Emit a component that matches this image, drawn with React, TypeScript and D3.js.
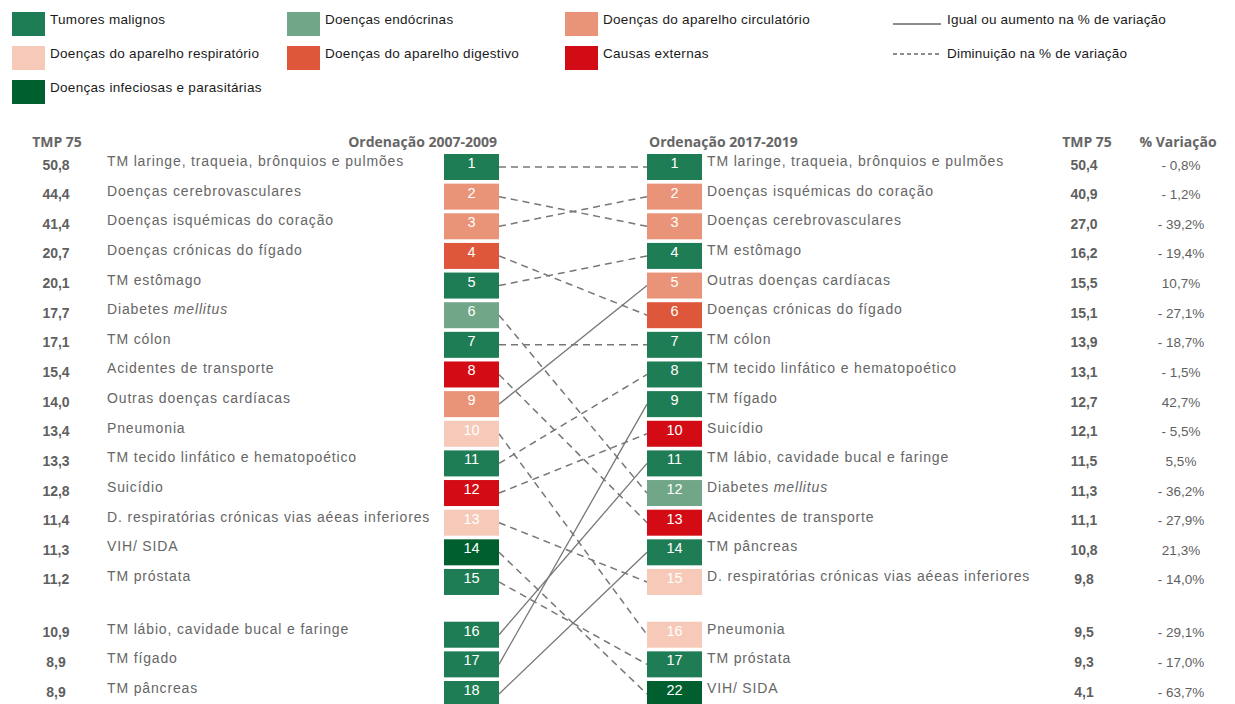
import * as d3 from "d3";

const W = 1235, H = 704;

// legend categories
const catKeys = ["tm", "endo", "circ", "resp", "dig", "ext", "inf"];
const catLabels = [
  "Tumores malignos",
  "Doenças endócrinas",
  "Doenças do aparelho circulatório",
  "Doenças do aparelho respiratório",
  "Doenças do aparelho digestivo",
  "Causas externas",
  "Doenças infeciosas e parasitárias",
];
const catColors = ["#1f7d55", "#72a688", "#e99478", "#f6c9b8", "#de573b", "#d20b14", "#005f2f"];

// 2007-2009 ordering
const leftNames = [
  "TM laringe, traqueia, brônquios e pulmões",
  "Doenças cerebrovasculares",
  "Doenças isquémicas do coração",
  "Doenças crónicas do fígado",
  "TM estômago",
  "Diabetes mellitus",
  "TM cólon",
  "Acidentes de transporte",
  "Outras doenças cardíacas",
  "Pneumonia",
  "TM tecido linfático e hematopoético",
  "Suicídio",
  "D. respiratórias crónicas vias aéeas inferiores",
  "VIH/ SIDA",
  "TM próstata",
  "TM lábio, cavidade bucal e faringe",
  "TM fígado",
  "TM pâncreas",
];
const leftTmp = [50.8, 44.4, 41.4, 20.7, 20.1, 17.7, 17.1, 15.4, 14.0, 13.4, 13.3, 12.8, 11.4, 11.3, 11.2, 10.9, 8.9, 8.9];
const leftCat = ["tm", "circ", "circ", "dig", "tm", "endo", "tm", "ext", "circ", "resp", "tm", "ext", "resp", "inf", "tm", "tm", "tm", "tm"];

// 2017-2019 ordering
const rightNames = [
  "TM laringe, traqueia, brônquios e pulmões",
  "Doenças isquémicas do coração",
  "Doenças cerebrovasculares",
  "TM estômago",
  "Outras doenças cardíacas",
  "Doenças crónicas do fígado",
  "TM cólon",
  "TM tecido linfático e hematopoético",
  "TM fígado",
  "Suicídio",
  "TM lábio, cavidade bucal e faringe",
  "Diabetes mellitus",
  "Acidentes de transporte",
  "TM pâncreas",
  "D. respiratórias crónicas vias aéeas inferiores",
  "Pneumonia",
  "TM próstata",
  "VIH/ SIDA",
];
const rightRank = [1, 2, 3, 4, 5, 6, 7, 8, 9, 10, 11, 12, 13, 14, 15, 16, 17, 22];
const rightTmp = [50.4, 40.9, 27.0, 16.2, 15.5, 15.1, 13.9, 13.1, 12.7, 12.1, 11.5, 11.3, 11.1, 10.8, 9.8, 9.5, 9.3, 4.1];
const rightPct = [-0.8, -1.2, -39.2, -19.4, 10.7, -27.1, -18.7, -1.5, 42.7, -5.5, 5.5, -36.2, -27.9, 21.3, -14.0, -29.1, -17.0, -63.7];

const color = d3.scaleOrdinal<string, string>().domain(catKeys).range(catColors);
const catOf = (name: string) => leftCat[leftNames.indexOf(name)];

// rows 16-18 sit after a small gap
const slot = (i: number) => (i < 15 ? i : i + 0.78);
const y = d3.scaleLinear().domain([0, 17.78]).range([154, 681]);

const boxW = 55, boxH = 26;
const xL = 444, xR = 647;

const fmt1 = (v: number) => d3.format(".1f")(Math.abs(v)).replace(".", ",");
const fmtPct = (v: number) => (v < 0 ? "- " : "") + fmt1(v) + "%";

const labelFont = "'Liberation Sans', Arial, sans-serif";
const headFont = "'Open Sans', sans-serif";
const gray = "#5f5f5f";

function Label({ x, yy, text }: { x: number; yy: number; text: string }) {
  const common = { x, y: yy, fontSize: 14, letterSpacing: 0.85, fill: "#666", fontFamily: labelFont };
  if (text === "Diabetes mellitus") {
    return (
      <text {...common}>
        Diabetes <tspan fontStyle="italic">mellitus</tspan>
      </text>
    );
  }
  return <text {...common}>{text}</text>;
}

export default function App() {
  const links = leftNames.map((n, i) => {
    const j = rightNames.indexOf(n);
    return { i, j, dec: rightPct[j] < 0 };
  });
  const line = d3.line();

  return (
    <svg width={W} height={H} style={{ position: "absolute", left: 0, top: 0, background: "#fff" }}>
      {/* legend */}
      {catLabels.map((lab, k) => {
        const col = k < 6 ? k % 3 : 0;
        const row = k < 6 ? Math.floor(k / 3) : 2;
        const lx = [12, 287, 565][col];
        const ly = 12 + row * 34;
        return (
          <g key={lab}>
            <rect x={lx} y={ly} width={33} height={24} fill={catColors[k]} />
            <text x={lx + 38} y={ly + 12} fontSize={13.5} letterSpacing={0.3} fill="#1a1a1a" fontFamily={labelFont}>
              {lab}
            </text>
          </g>
        );
      })}
      <line x1={893} x2={941} y1={24} y2={24} stroke="#1a1a1a" strokeWidth={1} />
      <text x={947} y={24} fontSize={13.5} letterSpacing={0.2} fill="#1a1a1a" fontFamily={labelFont}>
        Igual ou aumento na % de variação
      </text>
      <line x1={893} x2={941} y1={54} y2={54} stroke="#1a1a1a" strokeWidth={1} strokeDasharray="4,3" />
      <text x={947} y={58} fontSize={13.5} letterSpacing={0.2} fill="#1a1a1a" fontFamily={labelFont}>
        Diminuição na % de variação
      </text>

      {/* headers */}
      <g fontFamily={headFont} fontWeight={700} fontSize={14} fill="#666">
        <text x={57} y={147} textAnchor="middle">TMP 75</text>
        <text x={497} y={147} textAnchor="end">Ordenação 2007-2009</text>
        <text x={649} y={147}>Ordenação 2017-2019</text>
        <text x={1087} y={147} textAnchor="middle">TMP 75</text>
        <text x={1178} y={147} textAnchor="middle">% Variação</text>
      </g>

      {/* links */}
      {links.map((l) => (
        <path
          key={"l" + l.i}
          d={line([
            [xL + boxW, y(slot(l.i)) + boxH / 2],
            [xR, y(slot(l.j)) + boxH / 2],
          ]) as string}
          fill="none"
          stroke="#777"
          strokeWidth={l.dec ? 1.5 : 1.3}
          strokeDasharray={l.dec ? "7,5" : undefined}
        />
      ))}

      {/* left column */}
      {leftNames.map((n, i) => {
        const top = y(slot(i));
        return (
          <g key={"L" + i}>
            <text x={56} y={top + 15.5} textAnchor="middle" fontSize={14} fontWeight={700} fill={gray} fontFamily={labelFont}>
              {fmt1(leftTmp[i])}
            </text>
            <Label x={107} yy={top + 12} text={n} />
            <rect x={xL} y={top} width={boxW} height={boxH} fill={color(leftCat[i])} />
            <text x={xL + boxW / 2} y={top + 14} textAnchor="middle" fontSize={14.5} fill="#fff" fontFamily={labelFont}>
              {i + 1}
            </text>
          </g>
        );
      })}

      {/* right column */}
      {rightNames.map((n, j) => {
        const top = y(slot(j));
        return (
          <g key={"R" + j}>
            <rect x={xR} y={top} width={boxW} height={boxH} fill={color(catOf(n))} />
            <text x={xR + boxW / 2} y={top + 14} textAnchor="middle" fontSize={14.5} fill="#fff" fontFamily={labelFont}>
              {rightRank[j]}
            </text>
            <Label x={707} yy={top + 12} text={n} />
            <text x={1084} y={top + 15.5} textAnchor="middle" fontSize={14} fontWeight={700} fill={gray} fontFamily={labelFont}>
              {fmt1(rightTmp[j])}
            </text>
            <text x={1181} y={top + 15.5} textAnchor="middle" fontSize={13.5} fill={gray} fontFamily={labelFont}>
              {fmtPct(rightPct[j])}
            </text>
          </g>
        );
      })}
    </svg>
  );
}
